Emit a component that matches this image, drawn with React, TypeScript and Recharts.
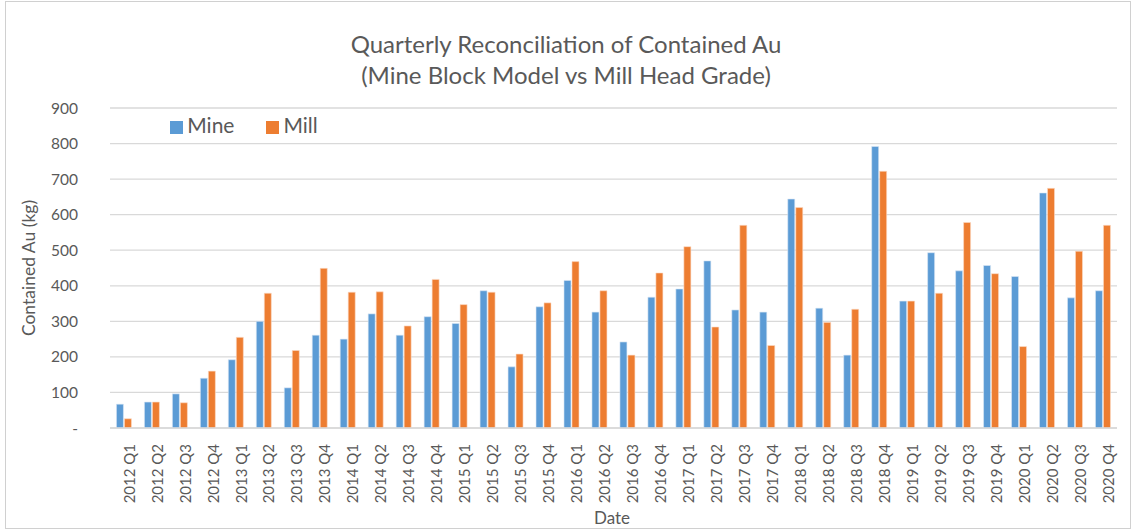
import { Bar, BarChart, CartesianGrid, Legend, XAxis, YAxis } from "recharts";

const quarters = [
  "2012 Q1", "2012 Q2", "2012 Q3", "2012 Q4",
  "2013 Q1", "2013 Q2", "2013 Q3", "2013 Q4",
  "2014 Q1", "2014 Q2", "2014 Q3", "2014 Q4",
  "2015 Q1", "2015 Q2", "2015 Q3", "2015 Q4",
  "2016 Q1", "2016 Q2", "2016 Q3", "2016 Q4",
  "2017 Q1", "2017 Q2", "2017 Q3", "2017 Q4",
  "2018 Q1", "2018 Q2", "2018 Q3", "2018 Q4",
  "2019 Q1", "2019 Q2", "2019 Q3", "2019 Q4",
  "2020 Q1", "2020 Q2", "2020 Q3", "2020 Q4"
];

const mineValues = [
  67, 73, 96, 140, 192, 300, 113, 261, 250, 321, 261, 313,
  294, 386, 172, 341, 415, 326, 242, 368, 391, 470, 332, 326,
  644, 337, 205, 792, 357, 493, 442, 457, 426, 661, 366, 386
];

const millValues = [
  26, 73, 71, 160, 255, 379, 218, 449, 382, 383, 287, 418,
  347, 382, 208, 352, 468, 386, 205, 436, 510, 284, 570, 232,
  620, 297, 334, 722, 357, 379, 578, 434, 229, 674, 497, 570
];

const yTicks = [0, 100, 200, 300, 400, 500, 600, 700, 800, 900];

const data = quarters.map((q, i) => ({ q, mine: mineValues[i], mill: millValues[i] }));

const FONT = "Lato, 'Open Sans', sans-serif";
const TEXT = "#595959";

export default function App() {
  return (
    <div
      style={{
        position: "fixed",
        top: 0,
        left: 0,
        width: 1132,
        height: 530,
        background: "#fff",
        fontFamily: FONT,
        overflow: "hidden"
      }}
    >
      <div
        style={{
          position: "absolute",
          left: 5,
          top: 1,
          width: 1124,
          height: 526,
          border: "1px solid #d0d0d0"
        }}
      />
      <div
        style={{
          position: "absolute",
          top: 28,
          left: 0,
          width: 1132,
          textAlign: "center",
          color: TEXT,
          fontSize: 24,
          lineHeight: "31px"
        }}
      >
        <div>Quarterly Reconciliation of Contained Au</div>
        <div>(Mine Block Model vs Mill Head Grade)</div>
      </div>
      <div style={{ position: "absolute", top: 0, left: 0 }}>
        <BarChart
          width={1132}
          height={530}
          data={data}
          margin={{ top: 108, right: 15, bottom: 0, left: 0 }}
          barCategoryGap="23%"
          barGap={1}
        >
          <CartesianGrid stroke="#d9d9d9" strokeWidth={1.3} vertical={false} />
          <XAxis
            dataKey="q"
            interval={0}
            height={102}
            angle={-90}
            textAnchor="end"
            tickLine={false}
            tickMargin={6}
            axisLine={{ stroke: "#d9d9d9", strokeWidth: 1.3 }}
            tick={{ fill: TEXT, fontSize: 15, fontFamily: FONT, dy: 4 }}
            label={{
              content: () => (
                <text x={612} y={517} textAnchor="middle" dominantBaseline="central" fill={TEXT} fontSize={17} fontFamily={FONT}>
                  Date
                </text>
              )
            }}
          />
          <YAxis
            width={110}
            domain={[0, 900]}
            ticks={yTicks}
            tickLine={false}
            axisLine={false}
            tickMargin={26}
            tickFormatter={(v) => (Number(v) === 0 ? "-" : String(v))}
            tick={{ fill: TEXT, fontSize: 15.5, fontFamily: FONT }}
            label={{
              content: () => (
                <text
                  x={28}
                  y={268}
                  transform="rotate(-90, 28, 268)"
                  textAnchor="middle"
                  dominantBaseline="central"
                  fill={TEXT}
                  fontSize={17.5}
                  fontFamily={FONT}
                >
                  Contained Au (kg)
                </text>
              )
            }}
          />
          <Legend
            layout="horizontal"
            verticalAlign="middle"
            align="center"
            iconType="square"
            iconSize={13}
            itemSorter={(item) => (item.value === "Mine" ? 0 : 1)}
            wrapperStyle={{ top: 112, left: 160, width: 200, fontSize: 21, fontFamily: FONT, textAlign: "left" }}
            formatter={(value) => <span style={{ color: TEXT, marginRight: 22 }}>{value}</span>}
          />
          <Bar dataKey="mine" name="Mine" fill="#5b9bd5" stroke="#dbe8f5" strokeWidth={0.6} isAnimationActive={false} />
          <Bar dataKey="mill" name="Mill" fill="#ed7d31" stroke="#fbdcc8" strokeWidth={0.6} isAnimationActive={false} />
        </BarChart>
      </div>
    </div>
  );
}
